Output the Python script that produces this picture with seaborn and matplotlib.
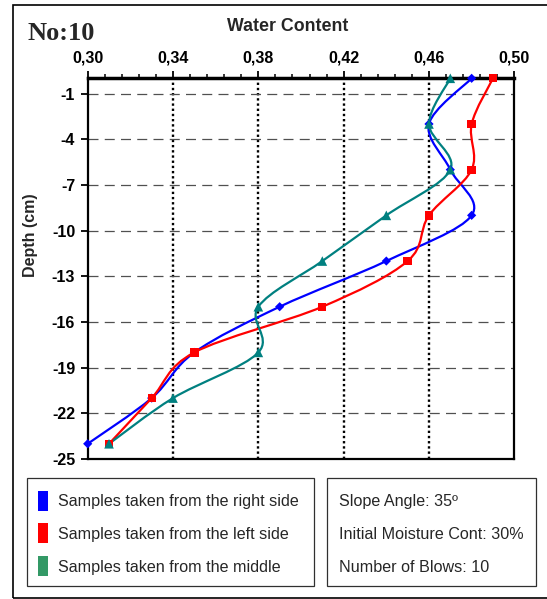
import numpy as np
import pandas as pd
import matplotlib
matplotlib.use("Agg")
import matplotlib.pyplot as plt
from matplotlib.path import Path
from matplotlib.patches import PathPatch, Rectangle
import seaborn as sns

# ---- data -------------------------------------------------------------
depth = [0, -3, -6, -9, -12, -15, -18, -21, -24]
right_side = [0.48, 0.46, 0.47, 0.48, 0.44, 0.39, 0.35, 0.33, 0.30]
left_side = [0.49, 0.48, 0.48, 0.46, 0.45, 0.41, 0.35, 0.33, 0.31]
middle = [0.47, 0.46, 0.47, 0.44, 0.41, 0.38, 0.38, 0.34, 0.31]

series_names = ["Samples taken from the right side",
                "Samples taken from the left side",
                "Samples taken from the middle"]
x_ticks = [0.30, 0.34, 0.38, 0.42, 0.46, 0.50]
y_ticks = [-25, -22, -19, -16, -13, -10, -7, -4, -1]
info_lines = ["Slope Angle: 35º", "Initial Moisture Cont: 30%", "Number of Blows: 10"]

line_colors = ["#0000FF", "#FF0000", "#008080"]
patch_colors = ["#0000FF", "#FF0000", "#339966"]
markers = ["D", "s", "^"]
marker_sizes = [22, 36, 48]

df = pd.DataFrame({
    "depth": depth * 3,
    "wc": right_side + left_side + middle,
    "series": sum([[n] * len(depth) for n in series_names], []),
})

sns.set_style("white")
plt.rcParams["font.family"] = ["Liberation Sans", "DejaVu Sans"]

W, H = 547, 599
fig = plt.figure(figsize=(W / 100, H / 100), dpi=100)


def fx(px):
    return px / W


def fy(py):
    return 1 - py / H


ax = fig.add_axes([fx(87.7), fy(459), fx(514.3) - fx(87.7), fy(78.3) - fy(459)])


def smooth_path(xs, ys):
    """Catmull-Rom style cubic Bezier through the points (smoothed line)."""
    pts = np.column_stack([xs, ys]).astype(float)
    n = len(pts)
    verts = [pts[0]]
    codes = [Path.MOVETO]
    for i in range(n - 1):
        p0 = pts[i - 1] if i > 0 else pts[i]
        p1 = pts[i]
        p2 = pts[i + 1]
        p3 = pts[i + 2] if i + 2 < n else pts[i + 1]
        c1 = p1 + (p2 - p0) / 6.0
        c2 = p2 - (p3 - p1) / 6.0
        verts += [c1, c2, p2]
        codes += [Path.CURVE4] * 3
    return Path(verts, codes)


# smoothed connecting lines
for vals, col in zip([right_side, left_side, middle], line_colors):
    ax.add_patch(PathPatch(smooth_path(vals, depth), facecolor="none",
                           edgecolor=col, lw=1.6, zorder=3, clip_on=False))

# markers
sns.scatterplot(data=df, x="wc", y="depth", hue="series", style="series",
                palette=dict(zip(series_names, line_colors)),
                markers=dict(zip(series_names, markers)),
                size="series", sizes=dict(zip(series_names, marker_sizes)),
                edgecolor="none", linewidth=0, legend=False, ax=ax,
                zorder=4, clip_on=False)

ax.set_xlim(0.30, 0.50)
ax.set_ylim(-25, 0)
ax.xaxis.tick_top()
ax.set_xticks(x_ticks)
ax.set_xticklabels([f"{v:.2f}".replace(".", ",") for v in x_ticks],
                   fontsize=11.5, fontweight="bold")
ax.set_xticks(np.arange(0.30, 0.5001, 0.008), minor=True)
ax.set_yticks(y_ticks)
ax.set_yticklabels([str(v) for v in y_ticks], fontsize=11.5, fontweight="bold")
ax.set_xlabel("")
ax.set_ylabel("")
ax.tick_params(axis="x", which="major", direction="out", length=5, width=1.3,
               top=True, bottom=False, pad=4, colors="black")
ax.tick_params(axis="x", which="minor", direction="out", length=3, width=1.3,
               top=True, bottom=False)
ax.tick_params(axis="y", which="major", direction="out", length=5, width=1.3,
               left=True, pad=4, colors="black")

# grid lines
for xv in x_ticks[1:-1]:
    ax.axvline(xv, color="black", lw=1.7, ls=(0, (1, 1.2)), zorder=1)
for yv in y_ticks[1:]:
    ax.axhline(yv, color="#505050", lw=0.9, ls=(0, (8, 5)), zorder=1)

for side, w in [("top", 2.5), ("right", 1.6), ("left", 1.6), ("bottom", 1.6)]:
    ax.spines[side].set_visible(True)
    ax.spines[side].set_color("black")
    ax.spines[side].set_linewidth(w)

# titles
fig.text(fx(27), fy(33), "No:10", fontsize=19, fontweight="bold",
         family=["Liberation Serif", "DejaVu Serif"], ha="left", va="center")
fig.text(fx(288), fy(26.5), "Water Content", fontsize=12.8, fontweight="bold",
         ha="center", va="center")
fig.text(fx(30), fy(235), "Depth (cm)", fontsize=11.5, fontweight="bold",
         rotation=90, ha="center", va="center")

# outer frame
fig.patches.append(Rectangle((fx(13), fy(598)), fx(560) - fx(13), fy(5) - fy(598),
                             transform=fig.transFigure, fill=False,
                             edgecolor="black", lw=1.2))

# legend box
fig.patches.append(Rectangle((fx(26.5), fy(585.5)), fx(313.5) - fx(26.5),
                             fy(478.3) - fy(585.5), transform=fig.transFigure,
                             fill=False, edgecolor="#303030", lw=0.9))
for i, (name, col) in enumerate(zip(series_names, patch_colors)):
    yc = 500.5 + i * 32.8
    fig.patches.append(Rectangle((fx(37.5), fy(yc + 10)), fx(10.3), fy(0) - fy(20),
                                 transform=fig.transFigure, facecolor=col,
                                 edgecolor="none"))
    fig.text(fx(57.5), fy(yc + 1), name, fontsize=11.6, ha="left", va="center")

# info box
fig.patches.append(Rectangle((fx(327), fy(585.5)), fx(536) - fx(327),
                             fy(478.3) - fy(585.5), transform=fig.transFigure,
                             fill=False, edgecolor="#303030", lw=0.9))
for i, line in enumerate(info_lines):
    fig.text(fx(339), fy(501.5 + i * 32.8), line, fontsize=11.6, ha="left", va="center")

fig.savefig("out.png", dpi=100)
